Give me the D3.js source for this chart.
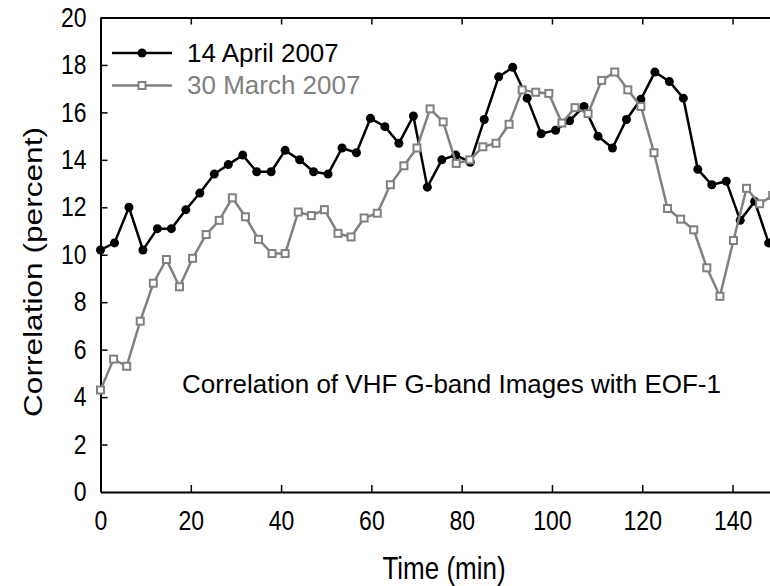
<!DOCTYPE html>
<html>
<head>
<meta charset="utf-8">
<script src="https://cdnjs.cloudflare.com/ajax/libs/d3/7.8.5/d3.min.js"></script>
<style>
body { margin: 0; background: #fff; }
svg { display: block; font-family: "Liberation Sans", Arial, sans-serif; }
</style>
</head>
<body>
<script>
// time (min) of each 14 April frame
var timeApril = [0, 3.1, 6.3, 9.4, 12.6, 15.7, 18.9, 22.0, 25.2, 28.3, 31.5, 34.6,
  37.8, 40.9, 44.1, 47.2, 50.4, 53.5, 56.7, 59.8, 63.0, 66.1, 69.3, 72.4,
  75.6, 78.7, 81.9, 85.0, 88.2, 91.3, 94.5, 97.6, 100.8, 103.9, 107.1, 110.2,
  113.4, 116.5, 119.7, 122.8, 126.0, 129.1, 132.3, 135.4, 138.6, 141.7, 144.9, 148.0];
var corrApril = [10.2, 10.5, 12.0, 10.2, 11.1, 11.1, 11.9, 12.6, 13.4, 13.8, 14.2, 13.5,
  13.5, 14.4, 14.0, 13.5, 13.4, 14.5, 14.3, 15.75, 15.4, 14.7, 15.85, 12.85,
  14.0, 14.2, 13.9, 15.7, 17.5, 17.9, 16.6, 15.1, 15.25, 15.65, 16.25, 15.0,
  14.5, 15.7, 16.55, 17.7, 17.3, 16.6, 13.6, 12.95, 13.1, 11.45, 12.25, 10.5];

// time (min) of each 30 March frame
var timeMarch = [0, 2.9, 5.8, 8.8, 11.7, 14.6, 17.5, 20.4, 23.4, 26.3, 29.2, 32.1,
  35.0, 38.0, 40.9, 43.8, 46.7, 49.6, 52.6, 55.5, 58.4, 61.3, 64.2, 67.2,
  70.1, 73.0, 75.9, 78.8, 81.8, 84.7, 87.6, 90.5, 93.4, 96.4, 99.3, 102.2,
  105.1, 108.0, 111.0, 113.9, 116.8, 119.7, 122.6, 125.6, 128.5, 131.4, 134.3, 137.2,
  140.2, 143.1, 146.0, 148.9];
var corrMarch = [4.3, 5.6, 5.3, 7.2, 8.8, 9.8, 8.65, 9.85, 10.85, 11.45, 12.4, 11.6,
  10.65, 10.05, 10.05, 11.8, 11.65, 11.9, 10.9, 10.75, 11.55, 11.75, 12.95, 13.75,
  14.5, 16.15, 15.6, 13.85, 14.0, 14.55, 14.7, 15.5, 16.95, 16.85, 16.8, 15.55,
  16.2, 15.95, 17.35, 17.7, 16.95, 16.25, 14.3, 11.95, 11.5, 11.05, 9.45, 8.25,
  10.6, 12.8, 12.15, 12.5];

var xTicks = [0, 20, 40, 60, 80, 100, 120, 140];
var yTicks = [0, 2, 4, 6, 8, 10, 12, 14, 16, 18, 20];
var seriesNames = ["14 April 2007", "30 March 2007"];

var width = 770, height = 586;
var grey = "#808080";
var stretch = "scale(1,1.18)"; // the source text is a little taller than Arial

var svg = d3.select("body").append("svg")
  .attr("width", width)
  .attr("height", height);

var x = d3.scaleLinear().domain([0, 150]).range([100.5, 777.7]);
var y = d3.scaleLinear().domain([0, 20]).range([492, 17.5]);

// axes, ticks pointing into the plot
var gx = svg.append("g")
  .attr("transform", "translate(0," + y(0) + ")")
  .call(d3.axisBottom(x).tickValues(xTicks).tickSizeInner(-7).tickSizeOuter(0).tickPadding(16));
var gy = svg.append("g")
  .attr("transform", "translate(" + x(0) + ",0)")
  .call(d3.axisLeft(y).tickValues(yTicks).tickSizeInner(-7).tickSizeOuter(0).tickPadding(14));
var gt = svg.append("g")
  .attr("transform", "translate(0," + y(20) + ")")
  .call(d3.axisTop(x).tickValues(xTicks).tickSizeInner(-7).tickSizeOuter(0).tickFormat(""));

[gx, gy, gt].forEach(function(g) {
  g.selectAll("path.domain").attr("stroke", "#000").attr("stroke-width", 2);
  g.selectAll(".tick line").attr("stroke", "#000").attr("stroke-width", 1.5);
  g.selectAll(".tick text").attr("fill", "#000").style("font-size", "23px")
    .style("font-family", "'Liberation Sans', Arial, sans-serif")
    .attr("transform", stretch);
});
gy.selectAll(".tick").filter(function(d) { return d == 0; }).select("line").remove();

// axis titles
svg.append("text")
  .attr("transform", "translate(444,579) " + stretch)
  .attr("text-anchor", "middle")
  .style("font-size", "26px")
  .text("Time (min)");
svg.append("text")
  .attr("transform", "translate(42,272) rotate(-90)")
  .attr("text-anchor", "middle")
  .style("font-size", "26px")
  .attr("textLength", 290)
  .attr("lengthAdjust", "spacingAndGlyphs")
  .text("Correlation (percent)");

svg.append("text")
  .attr("x", 182).attr("y", 393)
  .style("font-size", "26px")
  .text("Correlation of VHF G-band Images with EOF-1");

var line = d3.line()
  .x(function(d) { return x(d[0]); })
  .y(function(d) { return y(d[1]); });

var april = d3.zip(timeApril, corrApril);
var march = d3.zip(timeMarch, corrMarch);

svg.append("path")
  .datum(april)
  .attr("d", line)
  .attr("fill", "none")
  .attr("stroke", "#000")
  .attr("stroke-width", 2.5);
svg.selectAll("circle.apr")
  .data(april)
  .enter().append("circle")
  .attr("class", "apr")
  .attr("cx", function(d) { return x(d[0]); })
  .attr("cy", function(d) { return y(d[1]); })
  .attr("r", 4.5)
  .attr("fill", "#000");

svg.append("path")
  .datum(march)
  .attr("d", line)
  .attr("fill", "none")
  .attr("stroke", grey)
  .attr("stroke-width", 2.5);
svg.selectAll("rect.mar")
  .data(march)
  .enter().append("rect")
  .attr("class", "mar")
  .attr("x", function(d) { return x(d[0]) - 3.5; })
  .attr("y", function(d) { return y(d[1]) - 3.5; })
  .attr("width", 7)
  .attr("height", 7)
  .attr("fill", "#fff")
  .attr("stroke", grey)
  .attr("stroke-width", 2);

// legend
var leg = svg.append("g");
leg.append("line").attr("x1", 112).attr("x2", 172).attr("y1", 53).attr("y2", 53)
  .attr("stroke", "#000").attr("stroke-width", 2.5);
leg.append("circle").attr("cx", 142).attr("cy", 53).attr("r", 4.5).attr("fill", "#000");
leg.append("text").attr("x", 187).attr("y", 62).style("font-size", "26px")
  .attr("fill", "#000").text(seriesNames[0]);

leg.append("line").attr("x1", 112).attr("x2", 172).attr("y1", 85.5).attr("y2", 85.5)
  .attr("stroke", grey).attr("stroke-width", 2.5);
leg.append("rect").attr("x", 138.5).attr("y", 82).attr("width", 7).attr("height", 7)
  .attr("fill", "#fff").attr("stroke", grey).attr("stroke-width", 2);
leg.append("text").attr("x", 187).attr("y", 94).style("font-size", "26px")
  .attr("fill", grey).text(seriesNames[1]);
</script>
</body>
</html>
